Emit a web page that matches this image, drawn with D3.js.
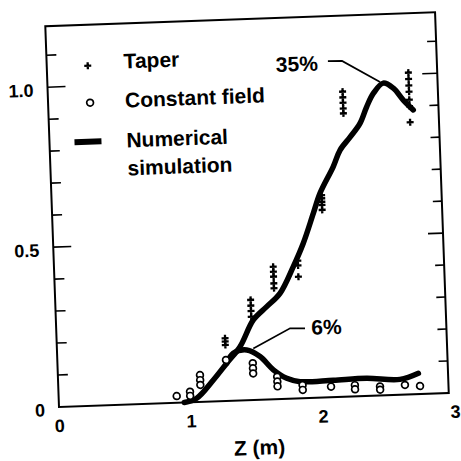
<!DOCTYPE html>
<html>
<head>
<meta charset="utf-8">
<script src="https://d3js.org/d3.v7.min.js"></script>
<style>
  body { margin: 0; background: #fff; }
  text { font-family: "Liberation Sans", Arial, sans-serif; font-weight: bold; fill: #000; }
</style>
</head>
<body>
<div id="chart"></div>
<script>

//~~~~~~~~~~~~~~~~~~DATA SET

let xTickLabels = [0, 1, 2, 3];
let yTickValues = [0.1, 0.2, 0.3, 0.4, 0.5, 0.6, 0.7, 0.8, 0.9, 1.0, 1.1];
let yTickLabels = [0, 0.5, 1.0];

// taper measurements (+)
let taperZ   = [1.276, 1.276, 1.276,
                1.48, 1.48, 1.48, 1.48,
                1.66, 1.66, 1.66, 1.66, 1.66,
                1.848, 1.848, 1.848,
                2.046, 2.046, 2.046, 2.046, 2.046,
                2.233, 2.233, 2.233, 2.233, 2.233,
                2.736, 2.736, 2.736, 2.736, 2.736, 2.736, 2.736];
let taperEff = [0.196, 0.186, 0.175,
                0.313, 0.295, 0.278, 0.26,
                0.414, 0.398, 0.383, 0.362, 0.347,
                0.43, 0.415, 0.38,
                0.632, 0.622, 0.611, 0.601, 0.586,
                0.953, 0.935, 0.918, 0.90, 0.885,
                1.005, 0.985, 0.965, 0.945, 0.92, 0.90, 0.85];

// constant field measurements (o)
let constZ   = [0.894, 0.996, 0.996, 1.076, 1.076, 1.076, 1.277,
                1.479, 1.479, 1.479, 1.66, 1.66, 1.66, 1.85, 1.85,
                2.065, 2.246, 2.246, 2.436, 2.436, 2.625, 2.739];
let constEff = [0.021, 0.033, 0.02, 0.084, 0.068, 0.053, 0.128,
                0.115, 0.099, 0.083, 0.07, 0.055, 0.04, 0.041, 0.026,
                0.033, 0.035, 0.022, 0.028, 0.018, 0.03, 0.025];

// numerical simulation, taper (35%)
let sim35Z   = [0.95, 1.045, 1.176, 1.282, 1.387, 1.495, 1.6, 1.704, 1.812, 1.894, 1.978,
                2.034, 2.142, 2.198, 2.277, 2.356, 2.411, 2.465, 2.543, 2.618, 2.69, 2.763];
let sim35Eff = [0.0, 0.012, 0.067, 0.118, 0.168, 0.25, 0.29, 0.33, 0.412, 0.484, 0.576,
                0.638, 0.72, 0.771, 0.81, 0.852, 0.903, 0.944, 0.975, 0.958, 0.92, 0.888];

// numerical simulation, constant field (6%)
let sim6Z   = [1.282, 1.334, 1.437, 1.536, 1.633, 1.732, 1.832, 2.084, 2.337, 2.589, 2.73];
let sim6Eff = [0.118, 0.148, 0.157, 0.135, 0.092, 0.064, 0.052, 0.053, 0.055, 0.048, 0.065];

// annotation leaders
let lead35Z = [2.13, 2.237, 2.519];
let lead35Eff = [1.05, 1.049, 0.979];
let lead6Z = [1.884, 1.771, 1.487];
let lead6Eff = [0.218, 0.22, 0.161];

//~~~~~~~~~~~~~~~~~~VARIABLES

let width = 461;
let height = 461;
let boxW = 390;
let boxH = 381;

// the scanned figure sits slightly tilted
let tilt = -2.06;

let x = d3.scaleLinear().domain([0, 3]).range([0, 396]);
let y = d3.scaleLinear().domain([0, 1.2]).range([0, -384]);

let svg = d3.select('#chart')
  .append('svg')
  .attr('width', width)
  .attr('height', height);

// origin at the bottom-left corner of the frame
let g = svg.append('g')
  .attr('transform', 'translate(59,407) rotate(' + tilt + ')');

//~~~~~~~~~~~~~~~~~~FRAME

g.append('rect')
  .attr('x', 0)
  .attr('y', -boxH)
  .attr('width', boxW)
  .attr('height', boxH)
  .attr('fill', 'none')
  .attr('stroke', '#000')
  .attr('stroke-width', 2);

// major ticks at 0.5 and 1.0
function isMajor(d) { return Math.abs(d - 0.5) < 1e-6 || Math.abs(d - 1) < 1e-6; }

// inward ticks on left and right
g.selectAll('.ltick')
  .data(yTickValues)
  .enter()
  .append('line')
  .attr('x1', 0)
  .attr('x2', function(d) { return isMajor(d) ? 18 : 10; })
  .attr('y1', function(d) { return y(d); })
  .attr('y2', function(d) { return y(d); })
  .attr('stroke', '#000')
  .attr('stroke-width', 1.6);

g.selectAll('.rtick')
  .data(yTickValues)
  .enter()
  .append('line')
  .attr('x1', boxW)
  .attr('x2', function(d) { return boxW - (isMajor(d) ? 15 : 9); })
  .attr('y1', function(d) { return y(d); })
  .attr('y2', function(d) { return y(d); })
  .attr('stroke', '#000')
  .attr('stroke-width', 1.6);

// tick labels
g.selectAll('.xlab')
  .data(xTickLabels)
  .enter()
  .append('text')
  .attr('x', function(d) { return x(d); })
  .attr('y', 25)
  .attr('text-anchor', 'middle')
  .style('font-size', '18px')
  .text(function(d) { return d; });

g.selectAll('.ylab')
  .data(yTickLabels)
  .enter()
  .append('text')
  .attr('x', -14)
  .attr('y', function(d) { return y(d) + 9; })
  .attr('text-anchor', 'end')
  .style('font-size', '18px')
  .text(function(d) { return d === 0 ? '0' : d.toFixed(1); });

g.append('text')
  .attr('x', 199)
  .attr('y', 55)
  .attr('text-anchor', 'middle')
  .style('font-size', '21px')
  .text('Z (m)');

//~~~~~~~~~~~~~~~~~~CURVES

let line = d3.line()
  .x(function(d) { return x(d[0]); })
  .y(function(d) { return y(d[1]); })
  .curve(d3.curveCatmullRom.alpha(0.5));

g.append('path')
  .attr('d', line(d3.zip(sim35Z, sim35Eff)))
  .attr('fill', 'none')
  .attr('stroke', '#000')
  .attr('stroke-width', 5.5)
  .attr('stroke-linecap', 'round');

g.append('path')
  .attr('d', line(d3.zip(sim6Z, sim6Eff)))
  .attr('fill', 'none')
  .attr('stroke', '#000')
  .attr('stroke-width', 5.5)
  .attr('stroke-linecap', 'round');

//~~~~~~~~~~~~~~~~~~POINTS

g.selectAll('.cf')
  .data(d3.zip(constZ, constEff))
  .enter()
  .append('circle')
  .attr('cx', function(d) { return x(d[0]); })
  .attr('cy', function(d) { return y(d[1]); })
  .attr('r', 3.4)
  .attr('fill', '#fff')
  .attr('stroke', '#000')
  .attr('stroke-width', 1.7);

let plus = 'M-3.5,0H3.5M0,-3.5V3.5';

g.selectAll('.tp')
  .data(d3.zip(taperZ, taperEff))
  .enter()
  .append('path')
  .attr('d', plus)
  .attr('transform', function(d) { return 'translate(' + x(d[0]) + ',' + y(d[1]) + ')'; })
  .attr('stroke', '#000')
  .attr('stroke-width', 2.3);

//~~~~~~~~~~~~~~~~~~ANNOTATIONS

let straight = d3.line()
  .x(function(d) { return x(d[0]); })
  .y(function(d) { return y(d[1]); });

g.append('path')
  .attr('d', straight(d3.zip(lead35Z, lead35Eff)))
  .attr('fill', 'none')
  .attr('stroke', '#000')
  .attr('stroke-width', 1.7);

g.append('path')
  .attr('d', straight(d3.zip(lead6Z, lead6Eff)))
  .attr('fill', 'none')
  .attr('stroke', '#000')
  .attr('stroke-width', 1.7);

g.append('text')
  .attr('x', 271)
  .attr('y', -327)
  .attr('text-anchor', 'end')
  .style('font-size', '21px')
  .text('35%');

g.append('text')
  .attr('x', 255)
  .attr('y', -63)
  .style('font-size', '21px')
  .text('6%');

//~~~~~~~~~~~~~~~~~~LEGEND

g.append('path')
  .attr('d', plus)
  .attr('transform', 'translate(41,-340)')
  .attr('stroke', '#000')
  .attr('stroke-width', 2.3);

g.append('circle')
  .attr('cx', 42)
  .attr('cy', -303)
  .attr('r', 3.4)
  .attr('fill', '#fff')
  .attr('stroke', '#000')
  .attr('stroke-width', 1.7);

g.append('line')
  .attr('x1', 25)
  .attr('x2', 52)
  .attr('y1', -264)
  .attr('y2', -264)
  .attr('stroke', '#000')
  .attr('stroke-width', 6);

let legendText = [['Taper', -336], ['Constant field', -297], ['Numerical', -257], ['simulation', -229]];

g.selectAll('.legtext')
  .data(legendText)
  .enter()
  .append('text')
  .attr('x', 77)
  .attr('y', function(d) { return d[1]; })
  .style('font-size', '21px')
  .text(function(d) { return d[0]; });

</script>
</body>
</html>
